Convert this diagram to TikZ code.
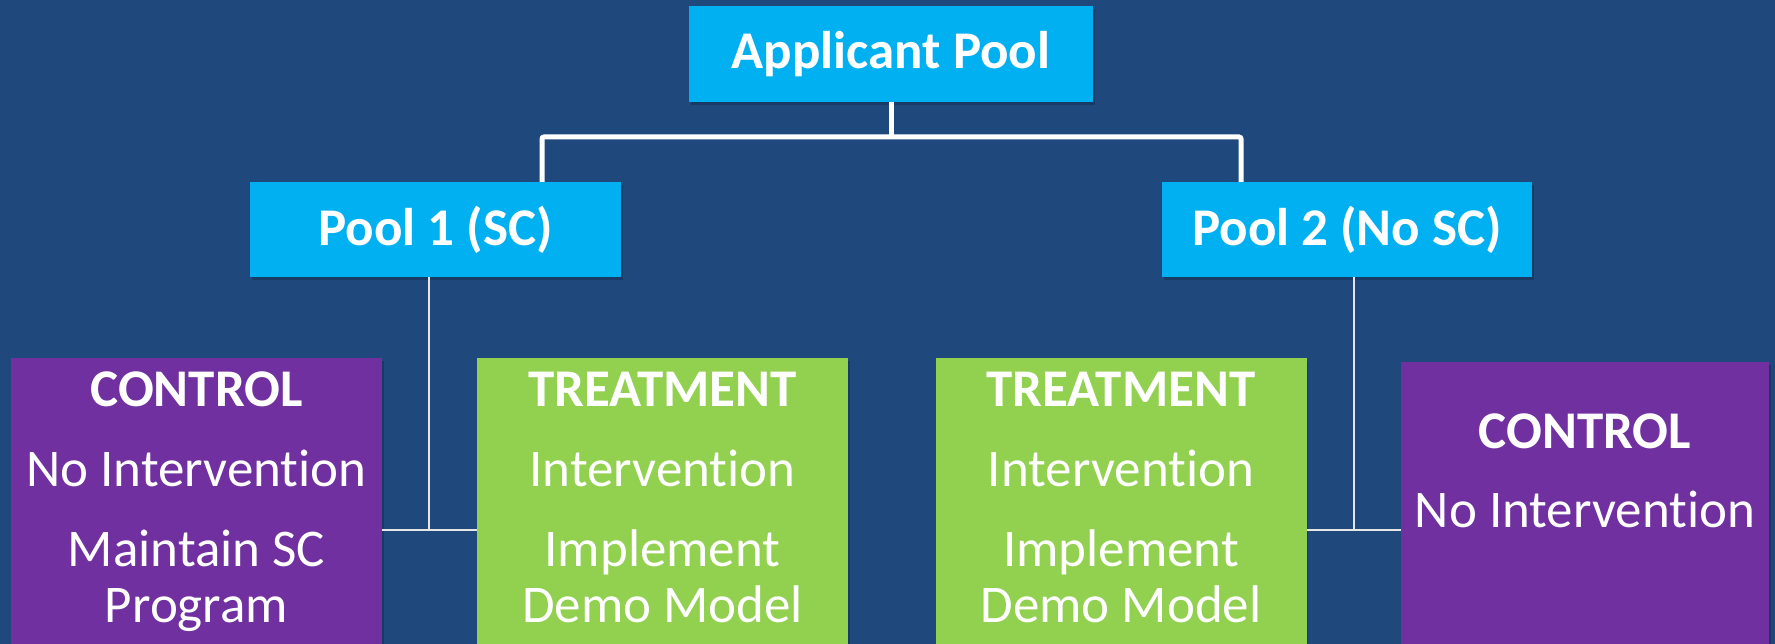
\documentclass[tikz,border=0pt]{standalone}
\usepackage{fontspec}
\setmainfont{Carlito}[Ligatures={NoCommon,NoContextual}]
\usetikzlibrary{shadows}
\definecolor{bgblue}{HTML}{1F497D}
\definecolor{cyanbox}{HTML}{00B0F0}
\definecolor{purplebox}{HTML}{7030A0}
\definecolor{greenbox}{HTML}{92D050}
\definecolor{thinline}{HTML}{E6E6E6}
\begin{document}
\begin{tikzpicture}[x=1pt,y=1pt,
  box/.style={rectangle, inner sep=0pt, drop shadow={shadow xshift=1.5pt, shadow yshift=-3pt, opacity=0.2, fill=black}},
  headbox/.style={box, fill=cyanbox, text=white, font=\fontsize{53}{60}\selectfont\bfseries},
  ctrlbox/.style={box, fill=purplebox, minimum width=371pt, minimum height=306pt},
  treatbox/.style={box, fill=greenbox, minimum width=371pt, minimum height=306pt},
  titlelbl/.style={anchor=base, text=white, inner sep=0pt, font=\fontsize{53}{60}\selectfont\bfseries},
  bodylbl/.style={anchor=base, text=white, inner sep=0pt, font=\fontsize{53}{60}\selectfont},
  thickconn/.style={draw=white, line width=5pt, rounded corners=2pt},
  thinconn/.style={draw=thinline, line width=2pt}
]
\useasboundingbox (0,0) rectangle (1775,644);
\fill[bgblue] (0,0) rectangle (1775,644);

% boxes
\node[headbox, minimum width=404pt, minimum height=96pt] (app) at (891,590) {Applicant Pool};
\node[headbox, minimum width=371pt, minimum height=95pt] (p1) at (435.5,414.5) {Pool 1 (SC)};
\node[headbox, minimum width=370pt, minimum height=95pt] (p2) at (1347,414.5) {Pool 2 (No SC)};

\node[ctrlbox] (c1) at (196.5,133) {};
\node[treatbox] (g1) at (662.5,133) {};
\node[treatbox] (g2) at (1121,133) {};
\node[ctrlbox, minimum width=368pt, minimum height=302pt] (c2) at (1585,131) {};

% texts
\node[titlelbl] (c1a) at (196.5,237) {CONTROL};
\node[bodylbl] (c1b) at (196.5,157) {No Intervention};
\node[bodylbl] (c1c) at (196.5,77) {Maintain SC};
\node[bodylbl] (c1d) at (196.5,21) {Program};

\node[titlelbl] (g1a) at (662.5,237) {TREATMENT};
\node[bodylbl] (g1b) at (662.5,157) {Intervention};
\node[bodylbl] (g1c) at (662.5,77) {Implement};
\node[bodylbl] (g1d) at (662.5,21) {Demo Model};

\node[titlelbl] (g2a) at (1121,237) {TREATMENT};
\node[bodylbl] (g2b) at (1121,157) {Intervention};
\node[bodylbl] (g2c) at (1121,77) {Implement};
\node[bodylbl] (g2d) at (1121,21) {Demo Model};

\node[titlelbl] (c2a) at (1585,195) {CONTROL};
\node[bodylbl] (c2b) at (1585,116) {No Intervention};

% connectors
\coordinate (j0) at (891,507);
\coordinate (jl) at (542,507);
\coordinate (jr) at (1241,507);
\draw[thickconn] (app.south) -- (j0);
\draw[thickconn] (jl |- p1.north) -- (jl) -- (jr) -- (jr |- p2.north);

\coordinate (k1) at (429,114);
\coordinate (k2) at (1354,114);
\draw[thinconn] (p1.south -| k1) -- (k1);
\draw[thinconn] (c1.east |- k1) -- (g1.west |- k1);
\draw[thinconn] (p2.south -| k2) -- (k2);
\draw[thinconn] (g2.east |- k2) -- (c2.west |- k2);
\end{tikzpicture}
\end{document}
